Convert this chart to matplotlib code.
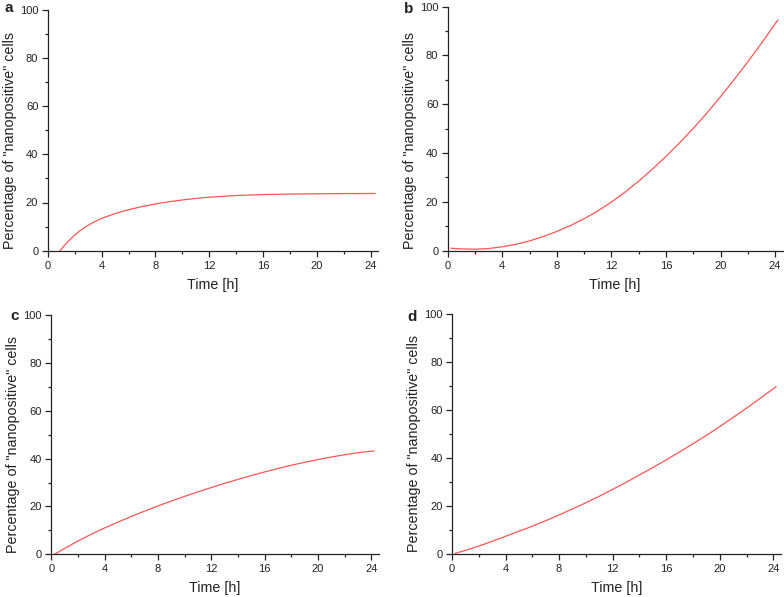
import numpy as np
import matplotlib
matplotlib.use("Agg")
import matplotlib.pyplot as plt
from matplotlib.ticker import MultipleLocator

plt.rcParams['font.family'] = ['Liberation Sans', 'DejaVu Sans']

# values (time in h, percentage)
a_t = [0.92, 1.2, 1.5, 1.9, 2.3, 2.8, 3.3, 4, 5, 6, 7, 8, 9, 10, 11, 12, 14, 16, 18, 20, 22, 24.3]
a_y = [0, 1.9, 3.75, 5.95, 7.85, 9.85, 11.5, 13.4, 15.4, 17.0, 18.3, 19.4, 20.3, 21.05, 21.7,
       22.2, 22.9, 23.3, 23.5, 23.62, 23.7, 23.75]

b_t = [0.25, 1, 2, 3, 4, 5, 6, 7, 8, 9, 10, 11, 12, 13, 14, 15, 16, 17, 18, 19, 20, 21, 22, 23, 24.2]
b_y = [1.0, 0.75, 0.6, 0.9, 1.6, 2.6, 4.0, 5.8, 7.9, 10.3, 13.1, 16.3, 19.9, 24.0, 28.5,
       33.4, 38.6, 44.2, 50.1, 56.4, 63.1, 70.1, 77.4, 85.0, 94.5]

c_t = [0.25, 1, 2, 3, 4, 5, 6, 7, 8, 9, 10, 11, 12, 13, 14, 15, 16, 17, 18, 19, 20, 21, 22, 23, 24.2]
c_y = [0, 2.45, 5.55, 8.4, 11.0, 13.45, 15.8, 18.05, 20.2, 22.25, 24.2, 26.1, 27.9, 29.65, 31.3,
       32.9, 34.4, 35.85, 37.2, 38.45, 39.6, 40.65, 41.6, 42.45, 43.2]

d_t = [0.25, 1, 2, 3, 4, 5, 6, 7, 8, 9, 10, 11, 12, 13, 14, 15, 16, 17, 18, 19, 20, 21, 22, 23, 24.2]
d_y = [0.3, 1.5, 3.3, 5.3, 7.4, 9.5, 11.6, 13.9, 16.3, 18.8, 21.4, 24.1, 27.0, 29.9, 33.0,
       36.1, 39.3, 42.6, 46.0, 49.5, 53.2, 57.0, 60.9, 64.9, 69.8]

letters = ['a', 'b', 'c', 'd']
series = [(a_t, a_y), (b_t, b_y), (c_t, c_y), (d_t, d_y)]

W, H = 784, 597
XMAX = 24.55
# pixel layout: left edge, y of the x axis, px per hour, px height
boxes = [(47.7, 250.7, 13.47, 241.0),
         (447.7, 250.7, 13.64, 244.0),
         (51.3, 554.3, 13.33, 239.3),
         (452.0, 554.0, 13.39, 239.6)]
letter_pos = [(8.3, 8.3), (408.7, 9.3), (15, 316), (412, 316.7)]

fig = plt.figure(figsize=(W / 100, H / 100), dpi=100)

for (t, y), (lx, by, ppu, hp), let, (px, py) in zip(series, boxes, letters, letter_pos):
    wp = XMAX * ppu
    ax = fig.add_axes([lx / W, (H - by) / H, wp / W, hp / H])
    ax.plot(t, y, color='#ff5555', lw=0.9)
    ax.set_xlim(0, XMAX)
    ax.set_ylim(0, 100)
    ax.xaxis.set_major_locator(MultipleLocator(4))
    ax.xaxis.set_minor_locator(MultipleLocator(2))
    ax.yaxis.set_major_locator(MultipleLocator(20))
    ax.yaxis.set_minor_locator(MultipleLocator(10))
    for s in ['top', 'right']:
        ax.spines[s].set_visible(False)
    for s in ['left', 'bottom']:
        ax.spines[s].set_linewidth(0.9)
        ax.spines[s].set_color('#222222')
    ax.tick_params(which='major', length=4.3, width=0.9, color='#222222',
                   labelsize=8, labelcolor='#222222', pad=2.5)
    ax.tick_params(which='minor', length=2.4, width=0.9, color='#222222')
    ax.tick_params(axis='x', pad=3)
    ax.set_xlabel('Time [h]', fontsize=10.3, va='center', color='#222222')
    ax.xaxis.set_label_coords(0.5, -34 / hp)
    ax.set_ylabel('Percentage of "nanopositive" cells', fontsize=10.3, va='center',
                  color='#222222')
    ax.yaxis.set_label_coords(-38 / wp, 110 / hp)
    fig.text(px / W, 1 - py / H, let, fontsize=11, fontweight='bold',
             ha='center', va='center', color='#222222')

fig.savefig('out.png', dpi=100)
